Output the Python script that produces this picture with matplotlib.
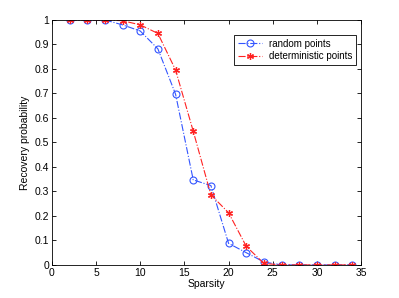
import matplotlib
matplotlib.use("Agg")
import matplotlib.pyplot as plt

plt.rcParams['font.family'] = ['Liberation Sans', 'DejaVu Sans']

## values
sparsity = [2, 4, 6, 8, 10, 12, 14, 16, 18, 20, 22, 24, 26, 28, 30, 32, 34]
random_pts = [1, 1, 1, 0.98, 0.955, 0.882, 0.697, 0.347, 0.324, 0.088, 0.05, 0.012, 0, 0, 0, 0, 0]
determ_pts = [1, 1, 1, 0.997, 0.98, 0.945, 0.796, 0.546, 0.286, 0.213, 0.076, 0.006, 0, 0, 0, 0, 0]

xticks = [0, 5, 10, 15, 20, 25, 30, 35]
yticks = [0, 0.1, 0.2, 0.3, 0.4, 0.5, 0.6, 0.7, 0.8, 0.9, 1]

fig = plt.figure(figsize=(3.99, 2.98), dpi=100)
ax = fig.add_axes([0.13, 0.111, 0.775, 0.822])

ax.plot(sparsity, random_pts, '-.', color='#3355ff', lw=0.8, marker='o',
        mfc='none', mec='#3355ff', ms=5, mew=0.8, label='random points')
## asterisk marker like matlab's '*'
ax.plot(sparsity, determ_pts, '-.', color='#ff2222', lw=0.8, marker=(6, 2, 0),
        mfc='#ff2222', mec='#ff2222', ms=5, mew=0.9, label='deterministic points')

ax.set_xlim(0, 35)
ax.set_ylim(0, 1)
ax.set_xticks(xticks)
ax.set_yticks(yticks)
ax.set_yticklabels(['0', '0.1', '0.2', '0.3', '0.4', '0.5', '0.6', '0.7', '0.8', '0.9', '1'])
ax.tick_params(direction='in', top=True, right=True, labelsize=7.5, length=3, width=0.6, pad=2)
for s in ax.spines.values():
    s.set_linewidth(0.6)

ax.set_xlabel('Sparsity', fontsize=7.5, labelpad=1)
ax.set_ylabel('Recovery probability', fontsize=7.5, labelpad=3)

leg = ax.legend(loc='upper right', bbox_to_anchor=(0.985, 0.94), fontsize=7, fancybox=False,
                framealpha=1, edgecolor='black', borderpad=0.4, handlelength=2.5,
                labelspacing=0.3, borderaxespad=0, handletextpad=0.7)
leg.get_frame().set_linewidth(0.6)

fig.savefig('out.png', dpi=100)
